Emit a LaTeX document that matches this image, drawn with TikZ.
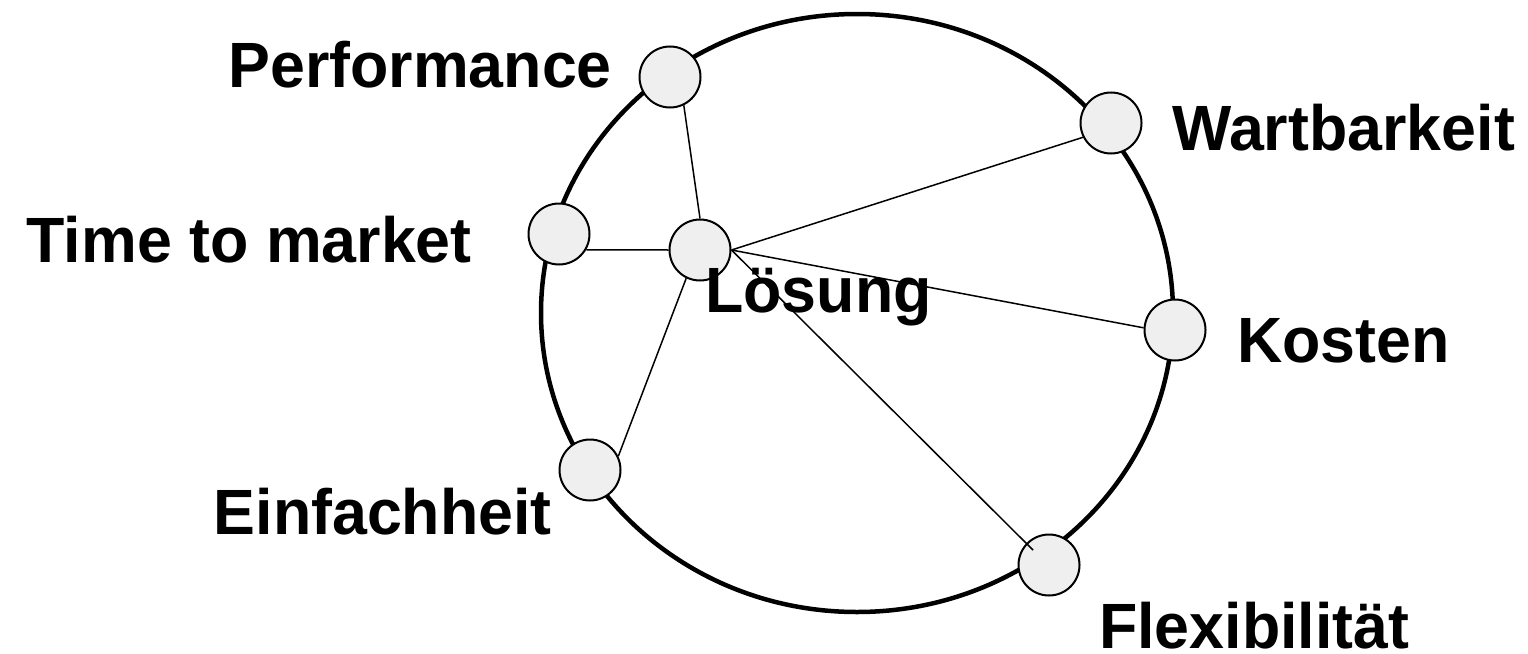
\documentclass[tikz,border=0pt]{standalone}
\usepackage{fontspec}
\setmainfont{Liberation Sans}[FakeStretch=0.98]
\definecolor{dotgray}{RGB}{239,239,239}
\begin{document}
\begin{tikzpicture}[x=1pt,y=-1pt,
  dot/.style={circle, draw=black, line width=2pt, fill=dotgray, minimum size=61pt, inner sep=0pt},
  lbl/.style={font=\fontsize{64}{64}\selectfont\bfseries, inner sep=0pt},
  link/.style={line width=1.5pt}]
\useasboundingbox (0,0) rectangle (1528,653);
% outer ring
\draw[line width=4.5pt] (857,313) ellipse [x radius=316, y radius=299];
% circles
\node[dot] (perf) at (670,77) {};
\node[dot] (wart) at (1111,123) {};
\node[dot] (time) at (559,234) {};
\node[dot] (sol)  at (700,250) {};
\node[dot] (kost) at (1175,330) {};
\node[dot] (einf) at (590,470) {};
\node[dot] (flex) at (1049,565) {};
\coordinate (flexend) at (1033,550);
% connectors
\draw[link] (perf.-64) -- (sol.north);
\draw[link] (wart.207) -- (sol.east);
\draw[link] (time.-30) -- (sol.west);
\draw[link] (kost.176) -- (sol.east);
\draw[link] (einf.26) -- (sol.-116);
\draw[link] (sol.east) -- (flexend);
% labels
\node[lbl, anchor=base east] (lperf) at (612,87) {Performance};
\node[lbl, anchor=base east] (ltime) at (472,262) {Time to market};
\node[lbl, anchor=base east] (leinf) at (552,534) {Einfachheit};
\node[lbl, anchor=base west] (lwart) at (1172,150) {Wartbarkeit};
\node[lbl, anchor=base west] (lkost) at (1237,362) {Kosten};
\node[lbl, anchor=base west] (lflex) at (1099,648) {Flexibilität};
\node[lbl, anchor=base west] (lsol) at (705,312) {Lösung};
\end{tikzpicture}
\end{document}
